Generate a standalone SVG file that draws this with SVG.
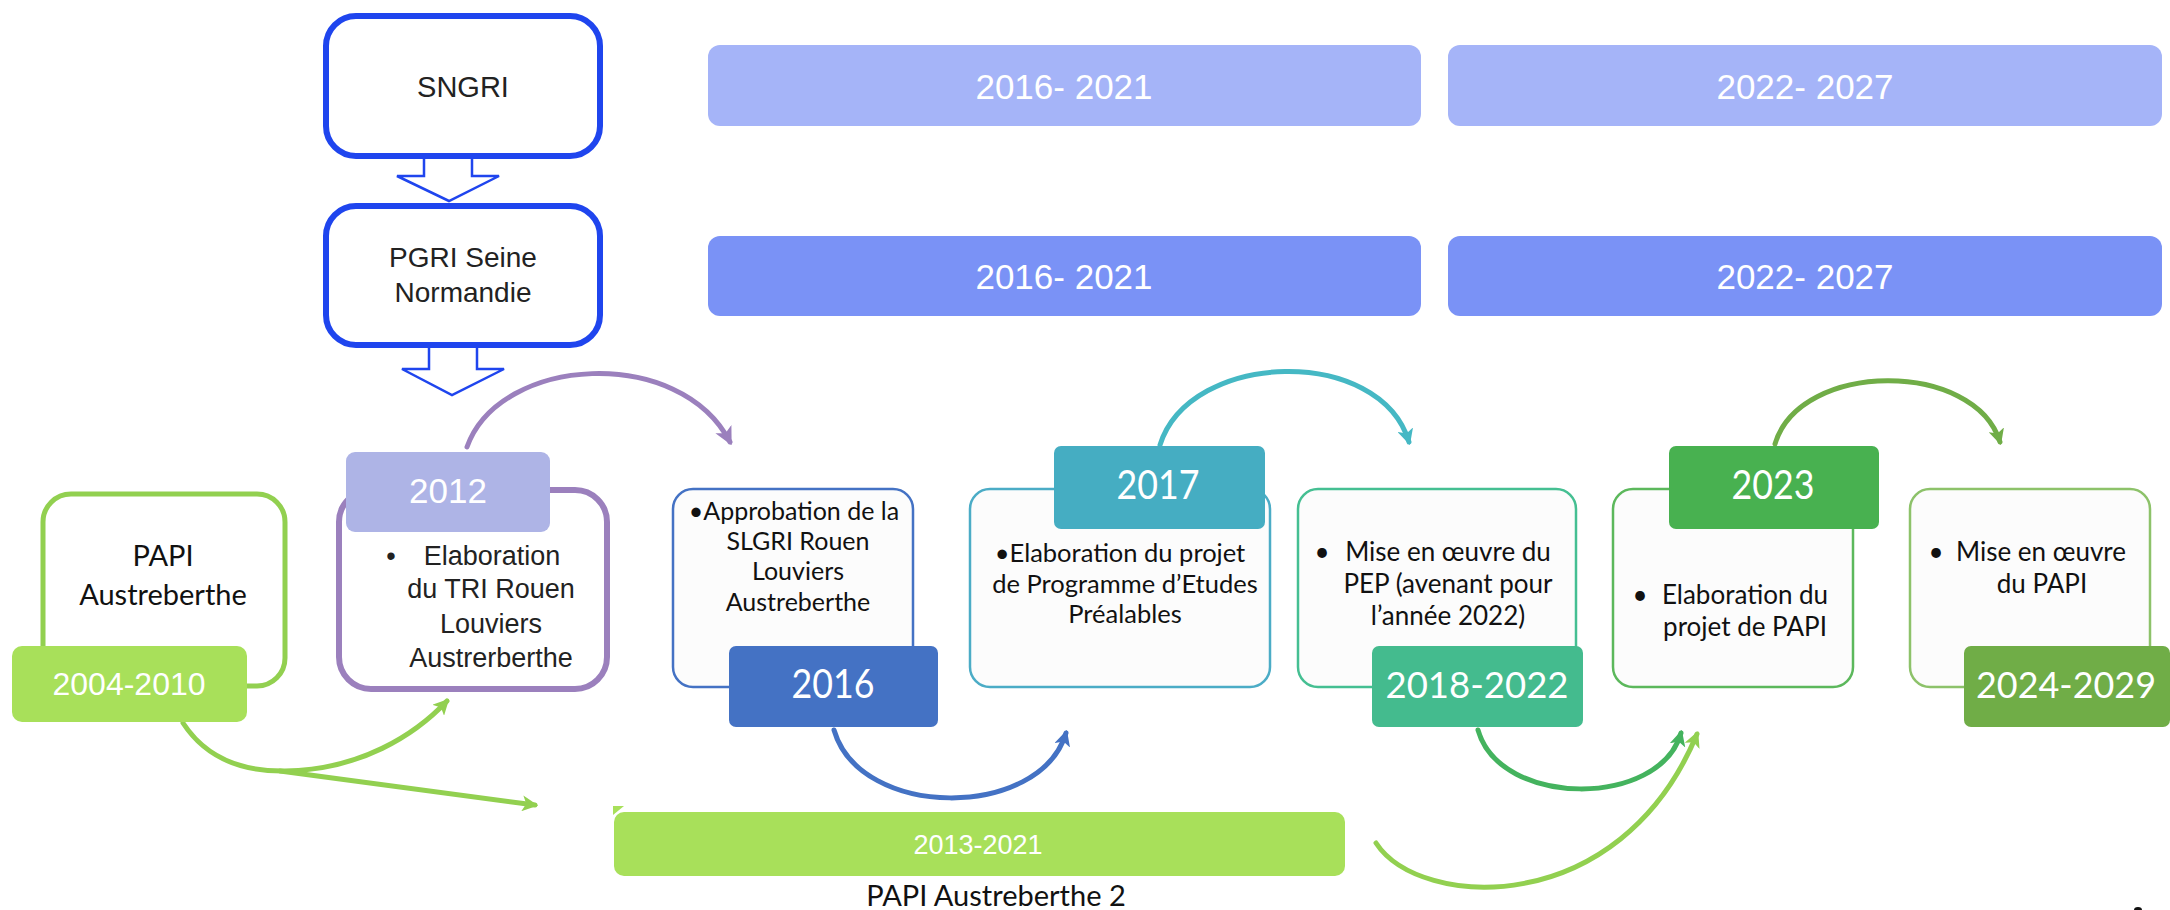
<svg xmlns="http://www.w3.org/2000/svg" width="2170" height="910" viewBox="0 0 2170 910">
<style>
.arial{font-family:"Liberation Sans",Arial,sans-serif;}
.cal{font-family:Lato,"Liberation Sans",sans-serif;}
.w{fill:#ffffff;}
.k{fill:#111111;}
.blk{fill:#ffffff;stroke:#1f45ee;stroke-width:6;}
.barrow{fill:#ffffff;stroke:#1f45ee;stroke-width:2.5;}
.card{fill:#fcfcfc;stroke-width:2.5;}
.arc{fill:none;stroke-width:5;stroke-linecap:round;}
</style>
<defs>
<marker id="mPurple" viewBox="0 0 10 10" refX="8" refY="5" markerWidth="18" markerHeight="18" markerUnits="userSpaceOnUse" orient="auto"><path d="M0,0 L10,5 L0,10 L2.5,5 z" fill="#9b80bd"/></marker>
<marker id="mBlue" viewBox="0 0 10 10" refX="8" refY="5" markerWidth="16" markerHeight="16" markerUnits="userSpaceOnUse" orient="auto"><path d="M0,0 L10,5 L0,10 L2.5,5 z" fill="#4472c4"/></marker>
<marker id="mTeal" viewBox="0 0 10 10" refX="8" refY="5" markerWidth="16" markerHeight="16" markerUnits="userSpaceOnUse" orient="auto"><path d="M0,0 L10,5 L0,10 L2.5,5 z" fill="#45b8c4"/></marker>
<marker id="mGreen" viewBox="0 0 10 10" refX="8" refY="5" markerWidth="16" markerHeight="16" markerUnits="userSpaceOnUse" orient="auto"><path d="M0,0 L10,5 L0,10 L2.5,5 z" fill="#44b35e"/></marker>
<marker id="mLight" viewBox="0 0 10 10" refX="8" refY="5" markerWidth="16" markerHeight="16" markerUnits="userSpaceOnUse" orient="auto"><path d="M0,0 L10,5 L0,10 L2.5,5 z" fill="#92d050"/></marker>
<marker id="mOlive" viewBox="0 0 10 10" refX="8" refY="5" markerWidth="16" markerHeight="16" markerUnits="userSpaceOnUse" orient="auto"><path d="M0,0 L10,5 L0,10 L2.5,5 z" fill="#70ad47"/></marker>
</defs>
<rect width="2170" height="910" fill="#ffffff"/>

<g id="connectors">
<polygon class="barrow" points="424,150 472,150 472,176 499,176 449,201 397,176 424,176"/>
<polygon class="barrow" points="429,340 477,340 477,369 504,369 452,395 402,369 429,369"/>
<path class="arc" stroke="#9b80bd" stroke-width="6" d="M467,447 C500,355 680,345 730,442" marker-end="url(#mPurple)"/>
<path class="arc" stroke="#4472c4" d="M834,730 C860,820 1040,820 1066,733" marker-end="url(#mBlue)"/>
<path class="arc" stroke="#45b8c4" d="M1160,445 C1190,350 1380,345 1409,442" marker-end="url(#mTeal)"/>
<path class="arc" stroke="#44b35e" d="M1478,730 C1500,808 1660,808 1681,733" marker-end="url(#mGreen)"/>
<path class="arc" stroke="#92d050" stroke-width="4" d="M1376,843 C1420,910 1620,920 1697,734" marker-end="url(#mLight)"/>
<path class="arc" stroke="#70ad47" d="M1775,444 C1800,360 1975,360 2000,442" marker-end="url(#mOlive)"/>
<path class="arc" stroke="#92d050" stroke-width="4" d="M183,723 Q215,772 285,771 C360,770 415,735 447,701" marker-end="url(#mLight)"/>
<path class="arc" stroke="#92d050" stroke-width="4" d="M280,771 L535,805" marker-end="url(#mLight)"/>
<polygon points="613,806 624,806 613,815" fill="#a8e05a"/>
</g>

<g id="n-sngri">
<rect class="blk" x="326" y="16" width="274" height="140" rx="30"/>
<text class="arial" x="463" y="97" font-size="29" fill="#222" text-anchor="middle">SNGRI</text>
</g>
<g id="n-pgri">
<rect class="blk" x="326" y="206" width="274" height="139" rx="30"/>
<text class="arial" x="463" y="267" font-size="28" fill="#222" text-anchor="middle">PGRI Seine</text>
<text class="arial" x="463" y="302" font-size="28" fill="#222" text-anchor="middle">Normandie</text>
</g>

<g id="n-bar1-2016">
<rect x="708" y="45" width="713" height="81" rx="12" fill="#a5b4f8"/>
<text class="arial w" x="1064" y="99" font-size="35" text-anchor="middle">2016- 2021</text>
</g>
<g id="n-bar1-2022">
<rect x="1448" y="45" width="714" height="81" rx="12" fill="#a5b4f8"/>
<text class="arial w" x="1805" y="99" font-size="35" text-anchor="middle">2022- 2027</text>
</g>
<g id="n-bar2-2016">
<rect x="708" y="236" width="713" height="80" rx="12" fill="#7a92f6"/>
<text class="arial w" x="1064" y="289" font-size="35" text-anchor="middle">2016- 2021</text>
</g>
<g id="n-bar2-2022">
<rect x="1448" y="236" width="714" height="80" rx="12" fill="#7a92f6"/>
<text class="arial w" x="1805" y="289" font-size="35" text-anchor="middle">2022- 2027</text>
</g>

<g id="n-papi">
<rect x="43" y="494" width="242" height="192" rx="28" fill="#ffffff" stroke="#92d050" stroke-width="5"/>
<text class="cal k" x="163" y="566" font-size="29" text-anchor="middle">PAPI</text>
<text class="cal k" x="163" y="605" font-size="29" text-anchor="middle">Austreberthe</text>
<rect x="12" y="646" width="235" height="76" rx="10" fill="#a8e05a"/>
<text class="arial w" x="129" y="695" font-size="32" text-anchor="middle">2004-2010</text>
</g>

<g id="n-tri">
<rect x="339" y="490" width="268" height="199" rx="32" fill="#ffffff" stroke="#9b80bd" stroke-width="6"/>
<rect x="346" y="452" width="204" height="80" rx="9" fill="#aeb4e6"/>
<text class="arial w" x="448" y="503" font-size="35" text-anchor="middle">2012</text>
<text class="arial" x="391" y="565" font-size="27" fill="#222" text-anchor="middle">•</text>
<text class="arial" x="492" y="565" font-size="27" fill="#222" text-anchor="middle">Elaboration</text>
<text class="arial" x="491" y="598" font-size="27" fill="#222" text-anchor="middle">du TRI Rouen</text>
<text class="arial" x="491" y="633" font-size="27" fill="#222" text-anchor="middle">Louviers</text>
<text class="arial" x="491" y="667" font-size="27" fill="#222" text-anchor="middle">Austrerberthe</text>
</g>

<g id="n-slgri">
<rect class="card" x="673" y="489" width="240" height="198" rx="20" stroke="#4472c4"/>
<text class="cal k" x="794" y="520" font-size="25" text-anchor="middle">•Approbation de la</text>
<text class="cal k" x="798" y="550" font-size="25" text-anchor="middle">SLGRI Rouen</text>
<text class="cal k" x="798" y="580" font-size="25" text-anchor="middle">Louviers</text>
<text class="cal k" x="798" y="611" font-size="25" text-anchor="middle">Austreberthe</text>
<rect x="729" y="646" width="209" height="81" rx="7" fill="#4472c4"/>
<text class="cal w" x="833" y="698" font-size="40" text-anchor="middle" textLength="83" lengthAdjust="spacingAndGlyphs">2016</text>
</g>

<g id="n-pep-projet">
<rect class="card" x="970" y="489" width="300" height="198" rx="20" stroke="#4bacc6"/>
<rect x="1054" y="446" width="211" height="83" rx="7" fill="#45adc2"/>
<text class="cal w" x="1158" y="499" font-size="40" text-anchor="middle" textLength="83" lengthAdjust="spacingAndGlyphs">2017</text>
<text class="cal k" x="1120" y="562" font-size="25.5" text-anchor="middle">•Elaboration du projet</text>
<text class="cal k" x="1125" y="593" font-size="25.5" text-anchor="middle">de Programme d’Etudes</text>
<text class="cal k" x="1125" y="623" font-size="25.5" text-anchor="middle">Préalables</text>
</g>

<g id="n-pep">
<rect class="card" x="1298" y="489" width="278" height="198" rx="20" stroke="#45bf92"/>
<text class="cal k" x="1322" y="561" font-size="26" text-anchor="middle">•</text>
<text class="cal k" x="1448" y="561" font-size="26" text-anchor="middle">Mise en œuvre du</text>
<text class="cal k" x="1448" y="593" font-size="26" text-anchor="middle">PEP (avenant pour</text>
<text class="cal k" x="1448" y="625" font-size="26" text-anchor="middle">l’année 2022)</text>
<rect x="1372" y="646" width="211" height="81" rx="7" fill="#44bb8e"/>
<text class="cal w" x="1477" y="698" font-size="37" text-anchor="middle" textLength="183" lengthAdjust="spacingAndGlyphs">2018-2022</text>
</g>

<g id="n-papi-projet">
<rect class="card" x="1613" y="489" width="240" height="198" rx="20" stroke="#5cb85c"/>
<rect x="1669" y="446" width="210" height="83" rx="7" fill="#48b150"/>
<text class="cal w" x="1773" y="499" font-size="40" text-anchor="middle" textLength="83" lengthAdjust="spacingAndGlyphs">2023</text>
<text class="cal k" x="1640" y="604" font-size="26" text-anchor="middle">•</text>
<text class="cal k" x="1745" y="604" font-size="26" text-anchor="middle">Elaboration du</text>
<text class="cal k" x="1745" y="636" font-size="26" text-anchor="middle">projet de PAPI</text>
</g>

<g id="n-papi-oeuvre">
<rect class="card" x="1910" y="489" width="240" height="198" rx="20" stroke="#8dc26a"/>
<text class="cal k" x="1936" y="561" font-size="26" text-anchor="middle">•</text>
<text class="cal k" x="2041" y="561" font-size="26" text-anchor="middle">Mise en œuvre</text>
<text class="cal k" x="2042" y="593" font-size="26" text-anchor="middle">du PAPI</text>
<rect x="1964" y="646" width="206" height="81" rx="7" fill="#70ad47"/>
<text class="cal w" x="2066" y="698" font-size="36" text-anchor="middle" textLength="180" lengthAdjust="spacingAndGlyphs">2024-2029</text>
</g>

<g id="n-papi2">
<rect x="614" y="812" width="731" height="64" rx="10" fill="#a8e05a"/>
<text class="arial w" x="978" y="854" font-size="27" text-anchor="middle">2013-2021</text>
<text class="cal k" x="996" y="906" font-size="29" text-anchor="middle">PAPI Austreberthe 2</text>
</g>
<ellipse cx="2138" cy="910" rx="4" ry="3" fill="#111"/>
</svg>
